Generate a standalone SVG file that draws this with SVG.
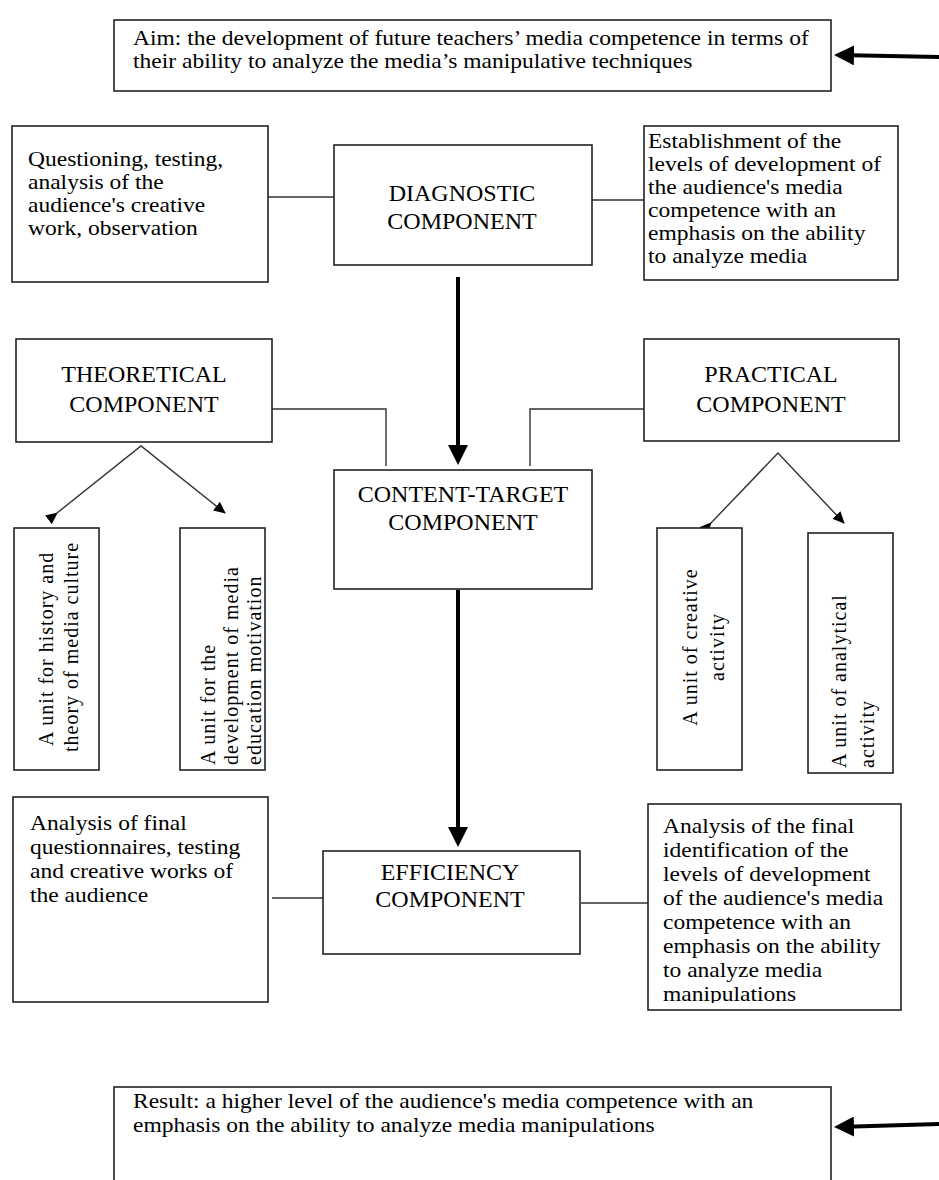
<svg xmlns="http://www.w3.org/2000/svg" width="939" height="1180" viewBox="0 0 939 1180">
<style>
.box{fill:#fff;stroke:#222;stroke-width:1.6}
.t{font-family:"Liberation Serif","Times New Roman",serif;font-size:21px;fill:#000}
.c{font-family:"Liberation Serif","Times New Roman",serif;font-size:24px;fill:#000;text-anchor:middle}
.v{font-family:"Liberation Serif","Times New Roman",serif;font-size:20px;fill:#000;letter-spacing:1px}
.thin{fill:none;stroke:#333;stroke-width:1.4}
.thick{fill:none;stroke:#000;stroke-width:4}
</style>
<defs>
<marker id="big" markerWidth="5" markerHeight="5" refX="4" refY="2.5" orient="auto" markerUnits="strokeWidth">
<path d="M0,0 L5,2.5 L0,5 z" fill="#000"/>
</marker>
<marker id="small" markerWidth="12" markerHeight="11" refX="11" refY="5.5" orient="auto" markerUnits="userSpaceOnUse">
<path d="M0,0 L12,5.5 L0,11 z" fill="#000"/>
</marker>
<clipPath id="clipR"><rect x="0" y="804" width="300" height="199"/></clipPath>
</defs>

<g id="connectors">
<line class="thick" x1="939" y1="57" x2="838" y2="55" marker-end="url(#big)"/>
<line class="thick" x1="939" y1="1124" x2="838" y2="1127" marker-end="url(#big)"/>
<line class="thick" x1="458" y1="277" x2="458" y2="461" marker-end="url(#big)"/>
<line class="thick" x1="458" y1="590" x2="458" y2="843" marker-end="url(#big)"/>
<line class="thin" x1="268" y1="197" x2="334" y2="197"/>
<line class="thin" x1="592" y1="200" x2="644" y2="200"/>
<polyline class="thin" points="272,409 386,409 386,466"/>
<polyline class="thin" points="644,409 530,409 530,466"/>
<polyline class="thin" points="57,513 141,446 225,513" marker-start="url(#small)" marker-end="url(#small)"/>
<polyline class="thin" points="711,523 778,453 844,523" marker-start="url(#small)" marker-end="url(#small)"/>
<line class="thin" x1="272" y1="898" x2="323" y2="898"/>
<line class="thin" x1="581" y1="903" x2="648" y2="903"/>
</g>

<g id="aim">
<rect class="box" x="114" y="20" width="717" height="71"/>
<text class="t" transform="matrix(1.12 0 0 1 133 0)"><tspan x="0" y="45">Aim: the development of future teachers’ media competence in terms of</tspan><tspan x="0" y="68">their ability to analyze the media’s manipulative techniques</tspan></text>
</g>

<g id="diag-methods">
<rect class="box" x="12" y="126" width="256" height="156"/>
<text class="t" transform="matrix(1.12 0 0 1 28 0)"><tspan x="0" y="166">Questioning, testing,</tspan><tspan x="0" y="189">analysis of the</tspan><tspan x="0" y="212">audience's creative</tspan><tspan x="0" y="235">work, observation</tspan></text>
</g>

<g id="diagnostic">
<rect class="box" x="334" y="145" width="258" height="120"/>
<text class="c"><tspan x="462" y="201">DIAGNOSTIC</tspan><tspan x="462" y="229">COMPONENT</tspan></text>
</g>

<g id="diag-levels">
<rect class="box" x="644" y="126" width="254" height="154"/>
<text class="t" transform="matrix(1.12 0 0 1 648 0)"><tspan x="0" y="148">Establishment of the</tspan><tspan x="0" y="171">levels of development of</tspan><tspan x="0" y="194">the audience's media</tspan><tspan x="0" y="217">competence with an</tspan><tspan x="0" y="240">emphasis on the ability</tspan><tspan x="0" y="263">to analyze media</tspan></text>
</g>

<g id="theoretical">
<rect class="box" x="16" y="339" width="256" height="103"/>
<text class="c"><tspan x="144" y="382">THEORETICAL</tspan><tspan x="144" y="412">COMPONENT</tspan></text>
</g>

<g id="practical">
<rect class="box" x="644" y="339" width="255" height="102"/>
<text class="c"><tspan x="771" y="382">PRACTICAL</tspan><tspan x="771" y="412">COMPONENT</tspan></text>
</g>

<g id="content-target">
<rect class="box" x="334" y="470" width="258" height="119"/>
<text class="c"><tspan x="463" y="502">CONTENT-TARGET</tspan><tspan x="463" y="530">COMPONENT</tspan></text>
</g>

<g id="unit-history">
<rect class="box" x="14" y="528" width="85" height="242"/>
<text class="v" transform="translate(53,746) rotate(-90)"><tspan x="0" y="0">A unit for history and</tspan><tspan x="-6" y="25">theory of media culture</tspan></text>
</g>

<g id="unit-motivation">
<rect class="box" x="180" y="528" width="85" height="242"/>
<text class="v" transform="translate(215,765) rotate(-90)"><tspan x="0" y="0">A unit for the</tspan><tspan x="0" y="23">development  of media</tspan><tspan x="0" y="46">education motivation</tspan></text>
</g>

<g id="unit-creative">
<rect class="box" x="657" y="528" width="85" height="242"/>
<text class="v" transform="translate(697,647) rotate(-90)" text-anchor="middle"><tspan x="0" y="0">A unit of creative</tspan><tspan x="0" y="27">activity</tspan></text>
</g>

<g id="unit-analytical">
<rect class="box" x="808" y="533" width="85" height="240"/>
<text class="v" transform="translate(846,768) rotate(-90)"><tspan x="0" y="0">A unit of analytical</tspan><tspan x="0" y="28">activity</tspan></text>
</g>

<g id="eff-methods">
<rect class="box" x="13" y="797" width="255" height="205"/>
<text class="t" transform="matrix(1.12 0 0 1 30 0)"><tspan x="0" y="830">Analysis of final</tspan><tspan x="0" y="854">questionnaires, testing</tspan><tspan x="0" y="878">and creative works of</tspan><tspan x="0" y="902">the audience</tspan></text>
</g>

<g id="efficiency">
<rect class="box" x="323" y="851" width="257" height="103"/>
<text class="c"><tspan x="450" y="880">EFFICIENCY</tspan><tspan x="450" y="907">COMPONENT</tspan></text>
</g>

<g id="eff-analysis">
<rect class="box" x="648" y="804" width="253" height="206"/>
<text class="t" transform="matrix(1.12 0 0 1 663 0)" clip-path="url(#clipR)"><tspan x="0" y="833">Analysis of the final</tspan><tspan x="0" y="857">identification of the</tspan><tspan x="0" y="881">levels of development</tspan><tspan x="0" y="905">of the audience's media</tspan><tspan x="0" y="929">competence with an</tspan><tspan x="0" y="953">emphasis on the ability</tspan><tspan x="0" y="977">to analyze media</tspan><tspan x="0" y="1001">manipulations</tspan></text>
</g>

<g id="result">
<rect class="box" x="114" y="1087" width="717" height="100"/>
<text class="t" transform="matrix(1.12 0 0 1 133 0)"><tspan x="0" y="1108">Result: a higher level of the audience's media competence with an</tspan><tspan x="0" y="1132">emphasis on the ability to analyze media manipulations</tspan></text>
</g>
</svg>
